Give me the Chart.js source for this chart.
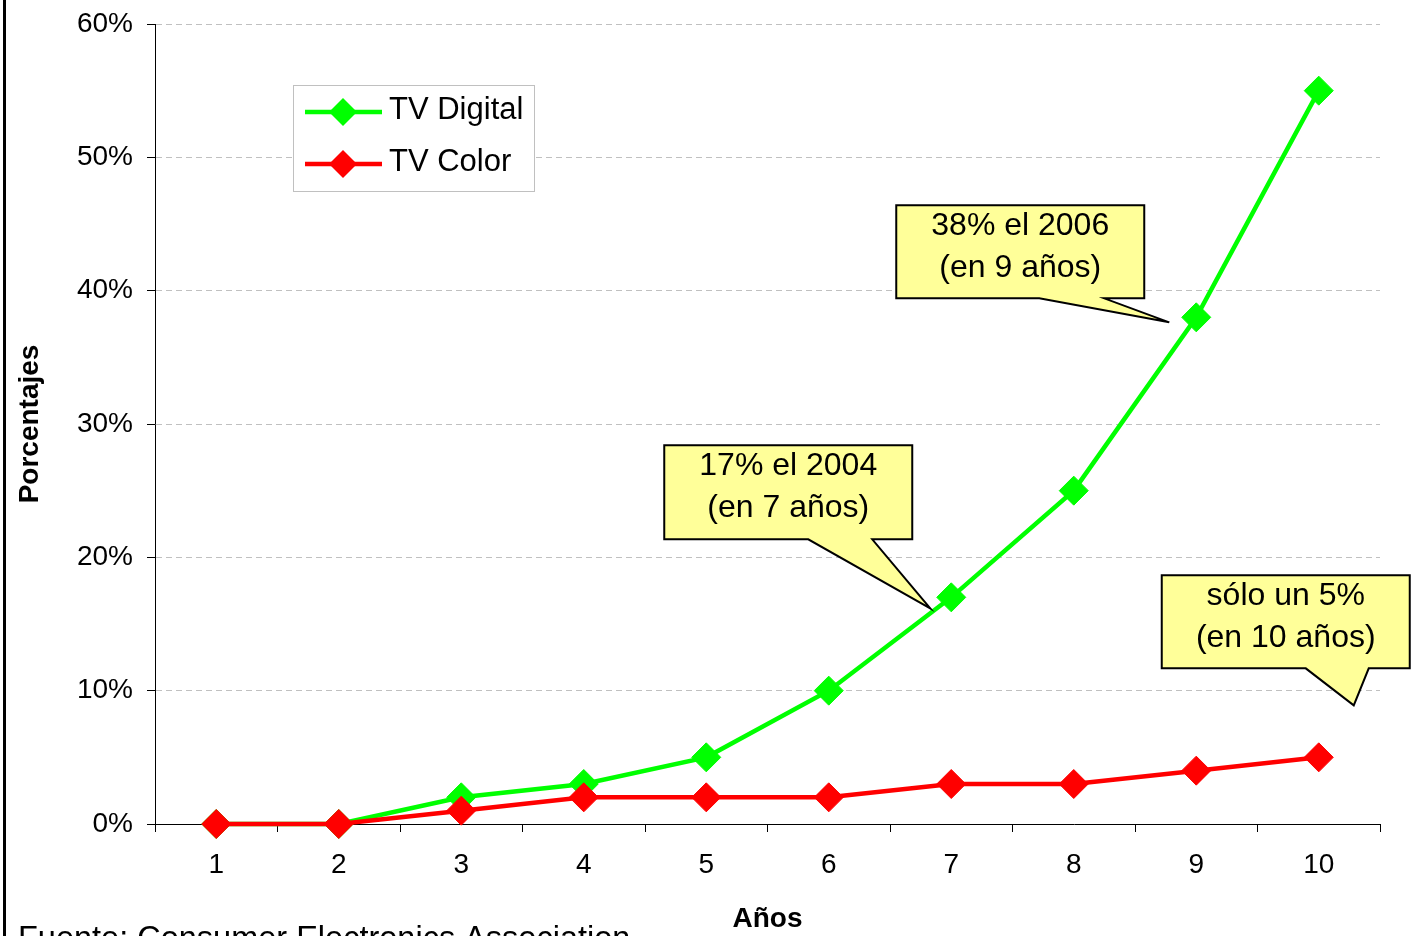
<!DOCTYPE html>
<html>
<head>
<meta charset="utf-8">
<script src="https://cdn.jsdelivr.net/npm/chart.js@4.4.1/dist/chart.umd.min.js"></script>
<style>
  html, body { margin: 0; padding: 0; background: #fff; overflow: hidden; }
</style>
</head>
<body>
<canvas id="miGrafico" width="1419" height="936"></canvas>
<script>
// datos
const anos = ['1', '2', '3', '4', '5', '6', '7', '8', '9', '10'];
const tvDigital = [0, 0, 2, 3, 5, 10, 17, 25, 38, 55];
const tvColor = [0, 0, 1, 2, 2, 2, 3, 3, 4, 5];
const ticksY = [0, 10, 20, 30, 40, 50, 60];

// notas (ancladas a un punto de la serie)
const notas = [
  { serie: 0, idx: 8, lineas: ['38% el 2006', '(en 9 años)'], box: [-300, -112, 248, 93], base: [-157, -92], punta: [-27, 5] },
  { serie: 0, idx: 6, lineas: ['17% el 2004', '(en 7 años)'], box: [-287, -152, 248, 94], base: [-143, -79], punta: [-21, 11] },
  { serie: 1, idx: 9, lineas: ['sólo un 5%', '(en 10 años)'], box: [-157, -182, 248, 93], base: [-13, 50], punta: [35, -52] }
];

const FAMILIA = "'Liberation Sans', Arial, sans-serif";
Chart.defaults.font.family = FAMILIA;
Chart.defaults.color = '#000';

function rombo(ctx, x, y, r, color) {
  ctx.beginPath();
  ctx.moveTo(x, y - r);
  ctx.lineTo(x + r, y);
  ctx.lineTo(x, y + r);
  ctx.lineTo(x - r, y);
  ctx.closePath();
  ctx.fillStyle = color;
  ctx.fill();
}

const extras = {
  id: 'extras',
  beforeDraw(chart) {
    const ctx = chart.ctx;
    ctx.save();
    ctx.fillStyle = '#fff';
    ctx.fillRect(0, 0, chart.width, chart.height);
    ctx.restore();
  },
  afterDraw(chart) {
    const ctx = chart.ctx;
    ctx.save();
    // borde izquierdo
    ctx.fillStyle = '#000';
    ctx.fillRect(3, 0, 3, chart.height);

    // fuente
    ctx.font = '32.5px ' + FAMILIA;
    ctx.textAlign = 'left';
    ctx.textBaseline = 'alphabetic';
    ctx.fillText('Fuente: Consumer Electronics Association', 18, 949);

    // leyenda
    ctx.fillStyle = '#fff';
    ctx.fillRect(293.5, 85.5, 241, 106);
    ctx.strokeStyle = '#c0c0c0';
    ctx.lineWidth = 1;
    ctx.strokeRect(293.5, 85.5, 241, 106);
    chart.data.datasets.forEach((ds, i) => {
      const y = 112 + i * 52;
      ctx.strokeStyle = ds.borderColor;
      ctx.lineWidth = 4.5;
      ctx.beginPath();
      ctx.moveTo(305, y);
      ctx.lineTo(382, y);
      ctx.stroke();
      rombo(ctx, 343, y, 14, ds.borderColor);
      ctx.fillStyle = '#000';
      ctx.font = '31px ' + FAMILIA;
      ctx.textBaseline = 'middle';
      ctx.fillText(ds.label, 389, y - 2);
    });

    // notas
    notas.forEach(n => {
      const p = chart.getDatasetMeta(n.serie).data[n.idx];
      const x0 = p.x + n.box[0], y0 = p.y + n.box[1];
      const w = n.box[2], h = n.box[3];
      ctx.beginPath();
      ctx.moveTo(x0, y0);
      ctx.lineTo(x0 + w, y0);
      ctx.lineTo(x0 + w, y0 + h);
      ctx.lineTo(p.x + n.base[1], y0 + h);
      ctx.lineTo(p.x + n.punta[0], p.y + n.punta[1]);
      ctx.lineTo(p.x + n.base[0], y0 + h);
      ctx.lineTo(x0, y0 + h);
      ctx.closePath();
      ctx.fillStyle = '#ffff99';
      ctx.fill();
      ctx.strokeStyle = '#000';
      ctx.lineWidth = 2;
      ctx.lineJoin = 'miter';
      ctx.stroke();
      ctx.fillStyle = '#000';
      ctx.font = '32px ' + FAMILIA;
      ctx.textAlign = 'center';
      ctx.textBaseline = 'middle';
      n.lineas.forEach((t, k) => ctx.fillText(t, x0 + w / 2, y0 + 21 + k * 42));
      ctx.textAlign = 'left';
    });
    ctx.restore();
  }
};

const ctx = document.getElementById('miGrafico').getContext('2d');
new Chart(ctx, {
  type: 'line',
  data: {
    labels: anos,
    datasets: [{
      label: 'TV Digital',
      data: tvDigital,
      borderColor: '#00ff00',
      backgroundColor: '#00ff00',
      borderWidth: 4.5,
      pointStyle: 'rectRot',
      pointRadius: 14.5,
      pointBorderWidth: 1,
      pointBackgroundColor: '#00ff00',
      pointBorderColor: '#00ff00',
      tension: 0,
      clip: false,
      order: 1
    }, {
      label: 'TV Color',
      data: tvColor,
      borderColor: '#ff0000',
      backgroundColor: '#ff0000',
      borderWidth: 4.5,
      pointStyle: 'rectRot',
      pointRadius: 14.5,
      pointBorderWidth: 1,
      pointBackgroundColor: '#ff0000',
      pointBorderColor: '#ff0000',
      tension: 0,
      clip: false,
      order: 0
    }]
  },
  options: {
    responsive: false,
    animation: false,
    layout: { padding: { top: 24, right: 39, left: 0, bottom: 0 } },
    plugins: {
      legend: { display: false },
      tooltip: { enabled: false }
    },
    scales: {
      x: {
        offset: true,
        grid: { offset: true, drawOnChartArea: false, tickLength: 8, color: '#000', tickColor: '#000' },
        border: { color: '#000', width: 1 },
        ticks: { font: { size: 28 }, padding: 16, maxRotation: 0 },
        title: { display: true, text: 'Años', font: { size: 28, weight: 'bold' }, padding: { top: 0, bottom: 0 } },
        afterFit: s => { s.height = 112; s.paddingLeft = 0; s.paddingRight = 0; }
      },
      y: {
        min: 0,
        max: 60,
        afterBuildTicks: s => { s.ticks = ticksY.map(v => ({ value: v })); },
        grid: { color: '#c0c0c0', lineWidth: 1, tickLength: 8, tickColor: '#000', tickBorderDash: [] },
        border: { color: '#000', width: 1, dash: [6, 4] },
        ticks: { font: { size: 28 }, padding: 14, callback: v => v + '%' },
        title: { display: true, text: 'Porcentajes', font: { size: 28, weight: 'bold' }, padding: { top: 13, bottom: 0 } },
        afterFit: s => { s.width = 155; s.paddingTop = 0; s.paddingBottom = 0; }
      }
    }
  },
  plugins: [extras]
});
</script>
</body>
</html>
